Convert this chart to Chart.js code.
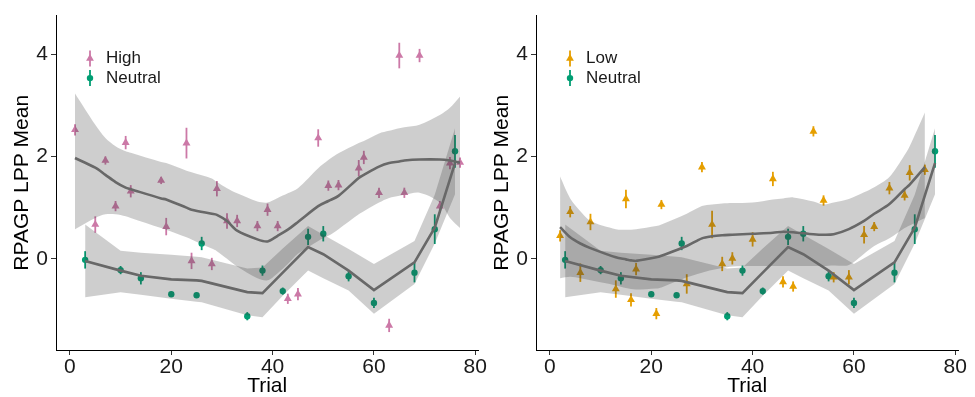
<!DOCTYPE html>
<html>
<head>
<meta charset="utf-8">
<script src="https://cdn.jsdelivr.net/npm/chart.js@4.4.1/dist/chart.umd.min.js"></script>
<style>
  html, body { margin: 0; padding: 0; background: #fff; }
  #wrap { position: relative; width: 975px; height: 397px; }
  .panel { position: absolute; top: 0; width: 487px; height: 397px; }
</style>
</head>
<body>
<div id="wrap">
  <div class="panel" style="left:0"><canvas id="leftChart" width="487" height="397"></canvas></div>
  <div class="panel" style="left:480px"><canvas id="rightChart" width="487" height="397"></canvas></div>
</div>
<script>
// tick labels
const xTicks = [0, 20, 40, 60, 80];
const yTicks = [0, 2, 4];

// High condition (left panel)
const highTrial = [1, 5, 7, 9, 11, 12, 18, 19, 23, 24, 28, 29, 31, 33, 37, 39, 41, 43, 45, 49, 51, 53, 57, 58, 61, 63, 65, 66, 69, 73, 75, 77];
const highMean = [2.52, 0.67, 1.92, 1.03, 2.27, 1.32, 1.53, 0.63, 2.26, -0.04, -0.1, 1.37, 0.74, 0.74, 0.64, 0.96, 0.64, -0.78, -0.69, 2.36, 1.43, 1.44, 1.77, 1.98, 1.29, -1.3, 3.97, 1.29, 3.97, 1.03, 1.87, 1.88];
const highErr = [0.11, 0.16, 0.08, 0.1, 0.13, 0.12, 0.07, 0.17, 0.3, 0.16, 0.12, 0.15, 0.15, 0.12, 0.1, 0.12, 0.1, 0.1, 0.12, 0.17, 0.1, 0.1, 0.16, 0.13, 0.1, 0.13, 0.25, 0.1, 0.13, 0.1, 0.12, 0.1];
const highFit = [1.97, 1.78, 1.64, 1.5, 1.39, 1.36, 1.18, 1.16, 1.0, 0.96, 0.88, 0.86, 0.74, 0.55, 0.38, 0.34, 0.45, 0.57, 0.72, 1.03, 1.13, 1.23, 1.58, 1.64, 1.8, 1.87, 1.9, 1.92, 1.94, 1.94, 1.92, 1.88];
const highFitHi = [3.23, 2.62, 2.36, 2.2, 2.1, 2.07, 1.89, 1.87, 1.72, 1.69, 1.57, 1.5, 1.38, 1.28, 1.12, 1.1, 1.19, 1.28, 1.38, 1.77, 1.93, 2.06, 2.26, 2.3, 2.45, 2.5, 2.55, 2.57, 2.62, 2.81, 2.95, 3.17];
const highFitLo = [0.58, 0.8, 0.87, 0.87, 0.83, 0.8, 0.6, 0.57, 0.42, 0.38, 0.2, 0.15, 0.0, -0.15, -0.38, -0.42, -0.28, -0.1, 0.1, 0.35, 0.45, 0.58, 0.87, 0.93, 1.1, 1.19, 1.23, 1.25, 1.29, 1.1, 0.8, 0.6];

// Low condition (right panel)
const lowTrial = [2, 4, 6, 8, 13, 15, 16, 17, 21, 22, 27, 30, 32, 34, 36, 40, 44, 46, 48, 52, 54, 56, 59, 62, 64, 67, 70, 71, 74];
const lowMean = [0.45, 0.92, -0.27, 0.72, -0.59, 1.17, -0.8, -0.2, -1.07, 1.06, -0.49, 1.79, 0.67, -0.1, 0.01, 0.38, 1.56, -0.45, -0.54, 2.49, 1.14, -0.36, -0.36, 0.47, 0.63, 1.38, 1.24, 1.68, 1.74];
const lowErr = [0.11, 0.11, 0.18, 0.16, 0.17, 0.18, 0.13, 0.12, 0.11, 0.09, 0.19, 0.1, 0.27, 0.14, 0.12, 0.14, 0.14, 0.11, 0.1, 0.1, 0.1, 0.1, 0.14, 0.17, 0.09, 0.12, 0.1, 0.15, 0.1];
const lowFit = [0.62, 0.42, 0.3, 0.21, 0.03, -0.01, -0.03, -0.04, 0.03, 0.06, 0.25, 0.4, 0.44, 0.46, 0.47, 0.49, 0.51, 0.53, 0.52, 0.48, 0.47, 0.48, 0.58, 0.74, 0.88, 1.07, 1.36, 1.45, 1.79];
const lowFitHi = [1.61, 1.18, 0.93, 0.74, 0.58, 0.57, 0.57, 0.58, 0.64, 0.67, 0.88, 1.03, 1.06, 1.08, 1.09, 1.1, 1.16, 1.18, 1.2, 1.12, 1.06, 1.1, 1.17, 1.3, 1.4, 1.6, 2.03, 2.2, 2.86];
const lowFitLo = [-0.38, -0.35, -0.38, -0.42, -0.52, -0.57, -0.59, -0.6, -0.58, -0.56, -0.36, -0.27, -0.22, -0.18, -0.15, -0.14, -0.14, -0.14, -0.14, -0.14, -0.14, -0.13, -0.12, 0.1, 0.25, 0.4, 0.6, 0.65, 0.8];

// Neutral condition (both panels)
const neutralTrial = [3, 10, 14, 20, 25, 26, 35, 38, 42, 47, 50, 55, 60, 68, 72, 76];
const neutralMean = [-0.02, -0.22, -0.38, -0.69, -0.71, 0.3, -1.12, -0.23, -0.63, 0.43, 0.49, -0.34, -0.86, -0.27, 0.58, 2.1];
const neutralErr = [0.17, 0.08, 0.12, 0.05, 0.05, 0.13, 0.08, 0.1, 0.07, 0.16, 0.15, 0.1, 0.1, 0.19, 0.29, 0.32];
const neutralFit = [-0.04, -0.23, -0.33, -0.4, -0.42, -0.43, -0.65, -0.67, -0.27, 0.23, 0.09, -0.23, -0.61, -0.07, 0.61, 1.87];
const neutralFitHi = [0.67, 0.16, 0.12, 0.08, 0.04, 0.03, -0.19, -0.17, 0.2, 0.64, 0.47, 0.19, -0.1, 0.35, 1.25, 2.55];
const neutralFitLo = [-0.75, -0.65, -0.7, -0.78, -0.84, -0.85, -1.1, -1.14, -0.72, -0.23, -0.38, -0.62, -1.07, -0.49, 0.3, 1.26];

const PINK = '#CC79A7';
const GREEN = '#009E73';
const ORANGE = '#E69F00';
const BAND = 'rgba(60,60,60,0.25)';
const FITLINE = '#686868';
const FONT = "'Liberation Sans', Arial, sans-serif";

const toXY = (xs, ys) => xs.map((x, i) => ({ x, y: ys[i] }));

// vertical error bars, drawn under the smoother bands like ggplot does
const errorBars = {
  id: 'errorBars',
  beforeDatasetsDraw(chart) {
    const { ctx, scales: { x, y } } = chart;
    chart.data.datasets.forEach((ds) => {
      if (!ds.errors) return;
      ctx.save();
      ctx.strokeStyle = ds.borderColor;
      ctx.lineWidth = 1.8;
      ds.data.forEach((p, i) => {
        const e = ds.errors[i];
        const px = x.getPixelForValue(p.x);
        ctx.beginPath();
        ctx.moveTo(px, y.getPixelForValue(p.y - e));
        ctx.lineTo(px, y.getPixelForValue(p.y + e));
        ctx.stroke();
      });
      ctx.restore();
    });
  }
};

// small legend in the top-left corner of the plot
const panelLegend = {
  id: 'panelLegend',
  afterDraw(chart, args, opts) {
    const { ctx, chartArea } = chart;
    (opts.items || []).forEach((it, i) => {
      const cx = chartArea.left + 34;
      const cy = chartArea.top + 43 + i * 19.5;
      ctx.save();
      ctx.strokeStyle = it.color;
      ctx.fillStyle = it.color;
      ctx.lineWidth = 1.8;
      ctx.beginPath();
      ctx.moveTo(cx, cy - 8);
      ctx.lineTo(cx, cy + 8);
      ctx.stroke();
      ctx.beginPath();
      if (it.shape === 'triangle') {
        const r = 4.5;
        ctx.moveTo(cx, cy - r);
        ctx.lineTo(cx + r * 0.866, cy + r * 0.5);
        ctx.lineTo(cx - r * 0.866, cy + r * 0.5);
        ctx.closePath();
      } else {
        ctx.arc(cx, cy, 3.2, 0, Math.PI * 2);
      }
      ctx.fill();
      ctx.fillStyle = '#1a1a1a';
      ctx.font = '17px ' + FONT;
      ctx.textBaseline = 'middle';
      ctx.textAlign = 'left';
      ctx.fillText(it.label, chartArea.left + 50, cy);
      ctx.restore();
    });
  }
};

function buildPanel(canvasId, group) {
  const ctx = document.getElementById(canvasId).getContext('2d');
  const datasets = [
    // raw means with error bars (drawn first)
    { type: 'line', data: toXY(group.trial, group.mean), errors: group.err, showLine: false,
      borderColor: group.color, backgroundColor: group.color, pointStyle: 'triangle',
      pointRadius: 4.6, pointBorderWidth: 0, order: 5 },
    { type: 'line', data: toXY(neutralTrial, neutralMean), errors: neutralErr, showLine: false,
      borderColor: GREEN, backgroundColor: GREEN, pointStyle: 'circle',
      pointRadius: 3.2, pointBorderWidth: 0, order: 5 },
    // confidence bands
    { type: 'line', data: toXY(group.trial, group.hi), fill: '+1', backgroundColor: BAND,
      borderWidth: 0, pointRadius: 0, tension: 0.3, order: 3 },
    { type: 'line', data: toXY(group.trial, group.lo), fill: false,
      borderWidth: 0, pointRadius: 0, tension: 0.3, order: 3 },
    { type: 'line', data: toXY(neutralTrial, neutralFitHi), fill: '+1', backgroundColor: BAND,
      borderWidth: 0, pointRadius: 0, tension: 0, order: 2 },
    { type: 'line', data: toXY(neutralTrial, neutralFitLo), fill: false,
      borderWidth: 0, pointRadius: 0, tension: 0, order: 2 },
    // fitted lines
    { type: 'line', data: toXY(group.trial, group.fit), borderColor: FITLINE, borderWidth: 2.6,
      pointRadius: 0, fill: false, tension: 0.3, order: 1 },
    { type: 'line', data: toXY(neutralTrial, neutralFit), borderColor: FITLINE, borderWidth: 2.6,
      pointRadius: 0, fill: false, tension: 0, order: 1 }
  ];

  return new Chart(ctx, {
    type: 'line',
    data: { datasets },
    plugins: [errorBars, panelLegend],
    options: {
      responsive: false,
      animation: false,
      layout: { padding: { top: 13, right: 5, left: 0, bottom: 0 } },
      plugins: {
        legend: { display: false },
        tooltip: { enabled: false },
        panelLegend: { items: [
          { label: group.label, color: group.color, shape: 'triangle' },
          { label: 'Neutral', color: GREEN, shape: 'circle' }
        ] }
      },
      scales: {
        x: {
          type: 'linear', min: -2.75, max: 80.6,
          afterBuildTicks: (s) => { s.ticks = xTicks.map((v) => ({ value: v })); },
          afterFit: (s) => { s.height = 47; },
          ticks: { font: { family: FONT, size: 21 }, color: '#1a1a1a', padding: 0, maxRotation: 0 },
          grid: { drawOnChartArea: false, tickLength: 5, tickColor: '#333', tickWidth: 1 },
          border: { color: '#000', width: 1 },
          title: { display: true, text: 'Trial', color: '#000', padding: 0,
                   font: { family: FONT, size: 21, lineHeight: 1 } }
        },
        y: {
          type: 'linear', min: -1.78, max: 4.75,
          afterBuildTicks: (s) => { s.ticks = yTicks.map((v) => ({ value: v })); },
          afterFit: (s) => { s.width = 56; },
          ticks: { font: { family: FONT, size: 21 }, color: '#1a1a1a', padding: 3 },
          grid: { drawOnChartArea: false, tickLength: 5, tickColor: '#333', tickWidth: 1 },
          border: { color: '#000', width: 1 },
          title: { display: true, text: 'RPAGP LPP Mean', color: '#000', padding: { top: 12, bottom: 0 },
                   font: { family: FONT, size: 21, lineHeight: 1 } }
        }
      }
    }
  });
}

buildPanel('leftChart', { trial: highTrial, mean: highMean, err: highErr, fit: highFit,
  hi: highFitHi, lo: highFitLo, color: PINK, label: 'High' });
buildPanel('rightChart', { trial: lowTrial, mean: lowMean, err: lowErr, fit: lowFit,
  hi: lowFitHi, lo: lowFitLo, color: ORANGE, label: 'Low' });
</script>
</body>
</html>
